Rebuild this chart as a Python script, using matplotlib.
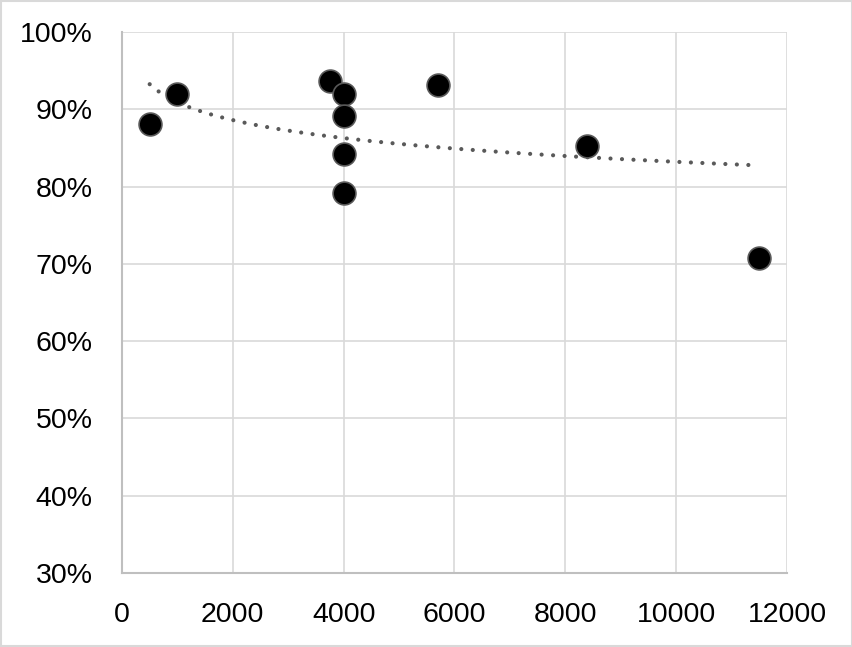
import numpy as np
import matplotlib
matplotlib.use("Agg")
import matplotlib.pyplot as plt
from matplotlib.ticker import PercentFormatter

plt.rcParams['font.family'] = ['Liberation Sans', 'DejaVu Sans']

# data
x_vals = [500, 1000, 3750, 4000, 4000, 4000, 4000, 5700, 8400, 11500]
y_vals = [88.1, 92.0, 93.7, 92.0, 89.1, 84.2, 79.2, 93.1, 85.3, 70.7]

x_ticks = [0, 2000, 4000, 6000, 8000, 10000, 12000]
y_ticks = [30, 40, 50, 60, 70, 80, 90, 100]

fig = plt.figure(figsize=(8.53, 6.47), dpi=100)
ax = fig.add_axes([0.143, 0.1144, 0.7796, 0.8361])

# logarithmic trendline, like excel
b, a = np.polyfit(np.log(x_vals), y_vals, 1)
xt = np.linspace(min(x_vals), max(x_vals), 200)
ax.plot(xt, a + b * np.log(xt), color='#595959', lw=3.0,
        dashes=(0.01, 2.75), dash_capstyle='round', zorder=2)

ax.scatter(x_vals, y_vals, s=270, c='black', edgecolors='#595959',
           linewidths=1.2, zorder=3)

ax.set_xlim(0, 12000)
ax.set_ylim(30, 100)
ax.set_xticks(x_ticks)
ax.set_yticks(y_ticks)
ax.yaxis.set_major_formatter(PercentFormatter(decimals=0))
ax.grid(True, color='#d9d9d9', lw=1.2)
ax.set_axisbelow(True)
for s in ['top', 'right']:
    ax.spines[s].set_visible(False)
for s in ['left', 'bottom']:
    ax.spines[s].set_color('#bfbfbf')
    ax.spines[s].set_linewidth(1.5)
ax.tick_params(length=0, labelsize=20.5, pad=21, colors='black')

# thin border around the whole chart
fig.patches.append(plt.Rectangle((0.001, 0.001), 0.998, 0.998, transform=fig.transFigure,
                                 fill=False, ec='#d9d9d9', lw=1.5))

fig.savefig('out.png', dpi=100)
